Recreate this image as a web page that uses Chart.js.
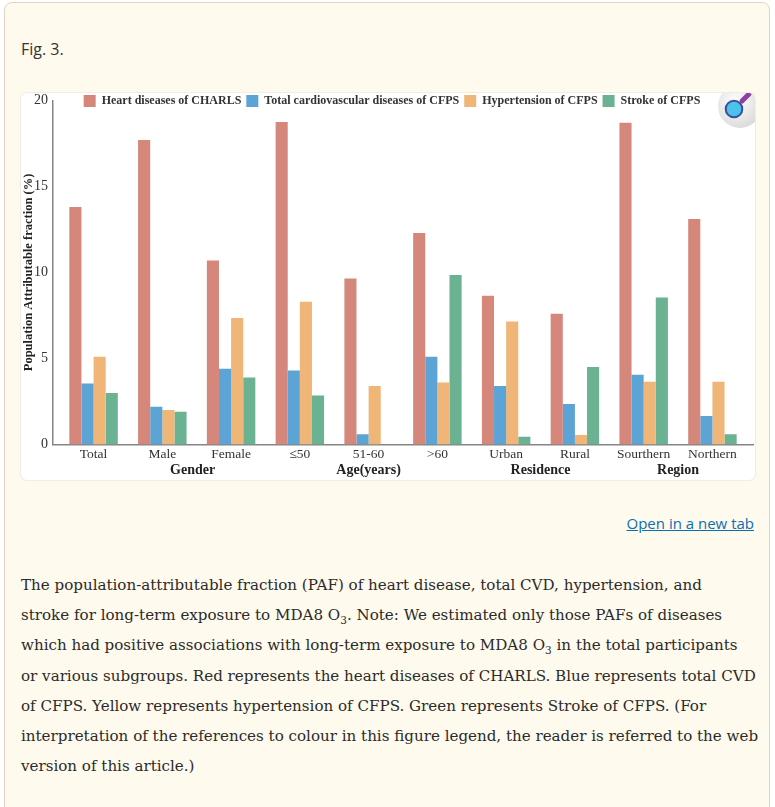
<!DOCTYPE html>
<html>
<head>
<meta charset="utf-8">
<script src="https://cdn.jsdelivr.net/npm/chart.js@4.4.1/dist/chart.umd.min.js"></script>
<style>
html, body { margin: 0; padding: 0; background: #fff; }
body { width: 775px; height: 807px; overflow: hidden; position: relative; }
.panel { position: absolute; left: 4px; top: 2px; width: 764px; height: 830px; background: #fffaee; border: 1.5px solid #ebd2bf; border-radius: 8px; }
.figlabel { position: absolute; left: 21px; top: 38px; font: 16px 'Open Sans'; color: #333; }
.figbox { position: absolute; left: 21px; top: 93px; width: 734px; height: 387px; background: #fff; border-radius: 6px; overflow: hidden; box-shadow: 0 0 0 1px #f1ede3; }
.plot { position: absolute; left: 0; top: -2px; width: 734px; height: 389px; }
.zoomicon { position: absolute; left: 692px; top: -9px; }
.newtab { position: absolute; right: 21px; top: 513px; font: 15px 'Open Sans'; color: #0b6fb3; text-decoration: underline; }
.caption { position: absolute; left: 21px; top: 570px; font: 15.1px 'DejaVu Serif'; line-height: 30.2px; color: #2b2b2b; white-space: nowrap; }
.caption sub { font-size: 10.5px; line-height: 0; }
</style>
</head>
<body>
<div class="panel"></div>
<div class="figlabel">Fig. 3.</div>
<div class="figbox">
	<div class="plot"><canvas id="chart"></canvas></div>
	<svg class="zoomicon" width="60" height="60" viewBox="0 0 60 60">
		<defs>
			<radialGradient id="g" cx="0.4" cy="0.4" r="0.6">
				<stop offset="0" stop-color="#ffffff"/>
				<stop offset="1" stop-color="#dcdcdc"/>
			</radialGradient>
		</defs>
		<circle cx="27" cy="22" r="22" fill="url(#g)"/>
		<line x1="29" y1="17" x2="36" y2="10" stroke="#8d3fa3" stroke-width="5" stroke-linecap="round"/>
		<circle cx="21" cy="25" r="8.3" fill="#4cc1ea" stroke="#3a4f9e" stroke-width="2"/>
	</svg>
</div>
<div class="newtab">Open in a new tab</div>
<div class="caption">
The population-attributable fraction (PAF) of heart disease, total CVD, hypertension, and<br>
stroke for long-term exposure to MDA8 O<sub>3</sub>. Note: We estimated only those PAFs of diseases<br>
which had positive associations with long-term exposure to MDA8 O<sub>3</sub> in the total participants<br>
or various subgroups. Red represents the heart diseases of CHARLS. Blue represents total CVD<br>
of CFPS. Yellow represents hypertension of CFPS. Green represents Stroke of CFPS. (For<br>
interpretation of the references to colour in this figure legend, the reader is referred to the web<br>
version of this article.)
</div>

<script>
'use strict';

// data
const categories = ['Total', 'Male', 'Female', '\u226450', '51-60', '>60', 'Urban', 'Rural', 'Sourthern', 'Northern'];
const groupNames = ['Gender', 'Age(years)', 'Residence', 'Region'];
const heartCharls = [13.8, 17.7, 10.7, 18.75, 9.65, 12.3, 8.65, 7.6, 18.7, 13.1];
const cvdCfps = [3.55, 2.2, 4.4, 4.3, 0.6, 5.1, 3.4, 2.35, 4.05, 1.65];
const hypertensionCfps = [5.1, 2.0, 7.35, 8.3, 3.4, 3.6, 7.15, 0.55, 3.65, 3.65];
const strokeCfps = [3.0, 1.9, 3.9, 2.85, 0, 9.85, 0.45, 4.5, 8.55, 0.6];
const yTicks = [0, 5, 10, 15, 20];

const serif = 'Liberation Serif';
const groupAt = [1.44, 4, 6.5, 8.5];

const toPoints = arr => arr.map((v, i) => ({x: i, y: v}));

const series = [
	{label: 'Heart diseases of CHARLS', data: heartCharls, color: '#d5877b'},
	{label: 'Total cardiovascular diseases of CFPS', data: cvdCfps, color: '#5ca4d6'},
	{label: 'Hypertension of CFPS', data: hypertensionCfps, color: '#f0b677'},
	{label: 'Stroke of CFPS', data: strokeCfps, color: '#6bb292'}
];

// legend drawn over the plot, takes no room
const legendOverlay = {
	id: 'legendOverlay',
	beforeInit(chart) {
		const fit = chart.legend.fit;
		chart.legend.fit = function() {
			fit.call(this);
			this.height = 0;
		};
	},
	afterLayout(chart) {
		chart.legend.top = -1;
		chart.legend.bottom = 30;
		chart.legend.left = 10;
	}
};

const ctx = document.querySelector('#chart').getContext('2d');

const chart = new Chart(ctx, {
	type: 'bar',
	data: {
		datasets: series.map(s => ({
			label: s.label,
			data: toPoints(s.data),
			backgroundColor: s.color,
			borderWidth: 0,
			barPercentage: 1,
			categoryPercentage: 0.705
		}))
	},
	options: {
		responsive: true,
		maintainAspectRatio: false,
		animation: false,
		layout: {
			padding: {top: 6, right: 2, left: 0, bottom: 0}
		},
		plugins: {
			legend: {
				position: 'top',
				labels: {
					boxWidth: 12,
					boxHeight: 12,
					padding: 5,
					color: '#333',
					font: {family: serif, size: 12, weight: 'bold'}
				}
			},
			tooltip: {enabled: false}
		},
		scales: {
			x: {
				type: 'linear',
				position: 'bottom',
				offset: false,
				min: -0.59,
				max: 9.59,
				afterBuildTicks: scale => {
					scale.ticks = categories.map((c, i) => ({value: i}));
				},
				afterFit: scale => { scale.height = 17; },
				grid: {display: false, drawTicks: false, offset: false},
				border: {display: true, color: '#858585', width: 1.5},
				ticks: {
					autoSkip: false,
					maxRotation: 0,
					padding: 2,
					color: '#333',
					font: {family: serif, size: 13.5},
					callback: (v, i) => categories[i]
				}
			},
			groups: {
				type: 'linear',
				position: 'bottom',
				offset: false,
				min: -0.59,
				max: 9.59,
				afterBuildTicks: scale => {
					scale.ticks = groupAt.map(v => ({value: v}));
				},
				afterFit: scale => { scale.height = 18.5; },
				grid: {display: false, drawTicks: false, offset: false},
				border: {display: false},
				ticks: {
					autoSkip: false,
					maxRotation: 0,
					padding: 0,
					color: '#222',
					font: {family: serif, size: 14, weight: 'bold'},
					callback: (v, i) => groupNames[i]
				}
			},
			y: {
				min: 0,
				max: 20,
				afterBuildTicks: scale => {
					scale.ticks = yTicks.map(v => ({value: v}));
				},
				afterFit: scale => { scale.width = 32; },
				grid: {display: false, drawTicks: true, tickLength: 4, tickColor: '#858585'},
				border: {display: true, color: '#858585', width: 1.5},
				ticks: {
					padding: 1,
					color: '#333',
					font: {family: serif, size: 14}
				},
				title: {
					display: true,
					text: 'Population Attributable fraction (%)',
					color: '#222',
					padding: 0,
					font: {family: serif, size: 12.5, weight: 'bold'}
				}
			}
		}
	},
	plugins: [legendOverlay]
});
</script>
</body>
</html>
